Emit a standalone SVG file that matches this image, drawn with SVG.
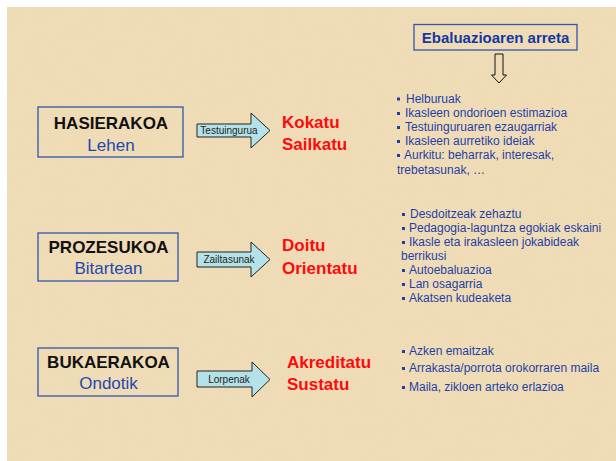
<svg xmlns="http://www.w3.org/2000/svg" width="616" height="461" viewBox="0 0 616 461">
<defs>
<filter id="tex" x="0" y="0" width="100%" height="100%">
<feTurbulence type="fractalNoise" baseFrequency="0.045" numOctaves="3" seed="4" result="n"/>
<feColorMatrix in="n" type="matrix" values="0 0 0 0 0.84  0 0 0 0 0.72  0 0 0 0 0.50  0 0 0 0.9 -0.35" result="c"/>
<feComposite in="c" in2="SourceGraphic" operator="in"/>
</filter>
</defs>
<style>
.box{fill:none;stroke:#2f55ad;stroke-width:1.3}
.hd{font-family:"Liberation Sans",Arial,sans-serif;font-weight:bold;font-size:17px;fill:#111;text-anchor:middle}
.sub{font-family:"Liberation Sans",Arial,sans-serif;font-size:17px;fill:#2448b0;text-anchor:middle}
.arr{fill:#b4e2e8;stroke:#222;stroke-width:1}
.al{font-family:"Liberation Sans",Arial,sans-serif;font-size:10px;fill:#222;text-anchor:middle}
.red{font-family:"Liberation Sans",Arial,sans-serif;font-weight:bold;font-size:17px;fill:#ff0a0a}
.bl{font-family:"Liberation Sans",Arial,sans-serif;font-size:12px;fill:#1f3fa5}
.b{fill:#1f3fa5}
.title{font-family:"Liberation Sans",Arial,sans-serif;font-weight:bold;font-size:15px;fill:#1438a0;text-anchor:middle}
</style>
<rect x="0" y="0" width="616" height="461" fill="#ffffff"/>
<rect x="7" y="7" width="609" height="454" fill="#efdcb6"/>
<rect x="7" y="7" width="609" height="454" fill="#efdcb6" filter="url(#tex)" opacity="0.6"/>

<g id="title">
<rect x="414" y="24.5" width="163" height="25.5" class="box" fill="none"/>
<text x="495.5" y="43" class="title">Ebaluazioaren arreta</text>
</g>

<g id="connectors">
<path d="M495,54 H503 V75 H506.5 L499,83 L491.5,75 H495 Z" fill="none" stroke="#111" stroke-width="1"/>
<g id="arrow1">
<path d="M197,124 H251 V113 L270,130.5 L251,148 V137 H197 Z" class="arr"/>
<text x="229" y="133.5" class="al">Testuingurua</text>
</g>
<g id="arrow2">
<path d="M197,252 H251 V242 L270,259.5 L251,277 V267 H197 Z" class="arr"/>
<text x="229" y="263" class="al">Zailtasunak</text>
</g>
<g id="arrow3">
<path d="M197,371 H252 V362 L270,379.5 L252,397 V387 H197 Z" class="arr"/>
<text x="229" y="383" class="al">Lorpenak</text>
</g>
</g>

<g id="hasierakoa">
<rect x="38" y="107" width="145" height="50" class="box"/>
<text x="111" y="128.5" class="hd">HASIERAKOA</text>
<text x="111" y="151" class="sub">Lehen</text>
</g>
<g id="prozesukoa">
<rect x="38" y="233" width="140" height="48" class="box"/>
<text x="108.5" y="253" class="hd">PROZESUKOA</text>
<text x="108.5" y="274" class="sub">Bitartean</text>
</g>
<g id="bukaerakoa">
<rect x="38" y="348" width="140" height="48" class="box"/>
<text x="108.5" y="368" class="hd">BUKAERAKOA</text>
<text x="108.5" y="389" class="sub">Ondotik</text>
</g>

<g id="result1">
<text x="282" y="128" class="red">Kokatu</text>
<text x="282" y="150" class="red">Sailkatu</text>
</g>
<g id="result2">
<text x="282" y="251" class="red">Doitu</text>
<text x="282" y="274" class="red">Orientatu</text>
</g>
<g id="result3">
<text x="287" y="368" class="red">Akreditatu</text>
<text x="287" y="390" class="red">Sustatu</text>
</g>

<g id="list1">
<rect x="397" y="97.5" width="3" height="3" class="b"/>
<text x="406" y="102.5" class="bl">Helburuak</text>
<rect x="397" y="112" width="3" height="3" class="b"/>
<text x="405" y="117" class="bl">Ikasleen ondorioen estimazioa</text>
<rect x="397" y="126" width="3" height="3" class="b"/>
<text x="405" y="131" class="bl">Testuinguruaren ezaugarriak</text>
<rect x="397" y="140" width="3" height="3" class="b"/>
<text x="405" y="145" class="bl">Ikasleen aurretiko ideiak</text>
<rect x="397" y="154" width="3" height="3" class="b"/>
<text x="404" y="159" class="bl">Aurkitu: beharrak, interesak,</text>
<text x="397" y="174" class="bl">trebetasunak, …</text>
</g>

<g id="list2">
<rect x="402" y="213" width="3" height="3" class="b"/>
<text x="410" y="218" class="bl">Desdoitzeak zehaztu</text>
<rect x="402" y="227" width="3" height="3" class="b"/>
<text x="409" y="232" class="bl">Pedagogia-laguntza egokiak eskaini</text>
<rect x="402" y="241" width="3" height="3" class="b"/>
<text x="409" y="246" class="bl">Ikasle eta irakasleen jokabideak</text>
<text x="401" y="259.5" class="bl">berrikusi</text>
<rect x="402" y="269" width="3" height="3" class="b"/>
<text x="409" y="274" class="bl">Autoebaluazioa</text>
<rect x="402" y="283" width="3" height="3" class="b"/>
<text x="409" y="288" class="bl">Lan osagarria</text>
<rect x="402" y="297" width="3" height="3" class="b"/>
<text x="409" y="302" class="bl">Akatsen kudeaketa</text>
</g>

<g id="list3">
<rect x="402" y="350" width="3" height="3" class="b"/>
<text x="409" y="355" class="bl">Azken emaitzak</text>
<rect x="402" y="367" width="3" height="3" class="b"/>
<text x="409" y="372" class="bl">Arrakasta/porrota orokorraren maila</text>
<rect x="402" y="386" width="3" height="3" class="b"/>
<text x="409" y="391" class="bl">Maila, zikloen arteko erlazioa</text>
</g>
</svg>
